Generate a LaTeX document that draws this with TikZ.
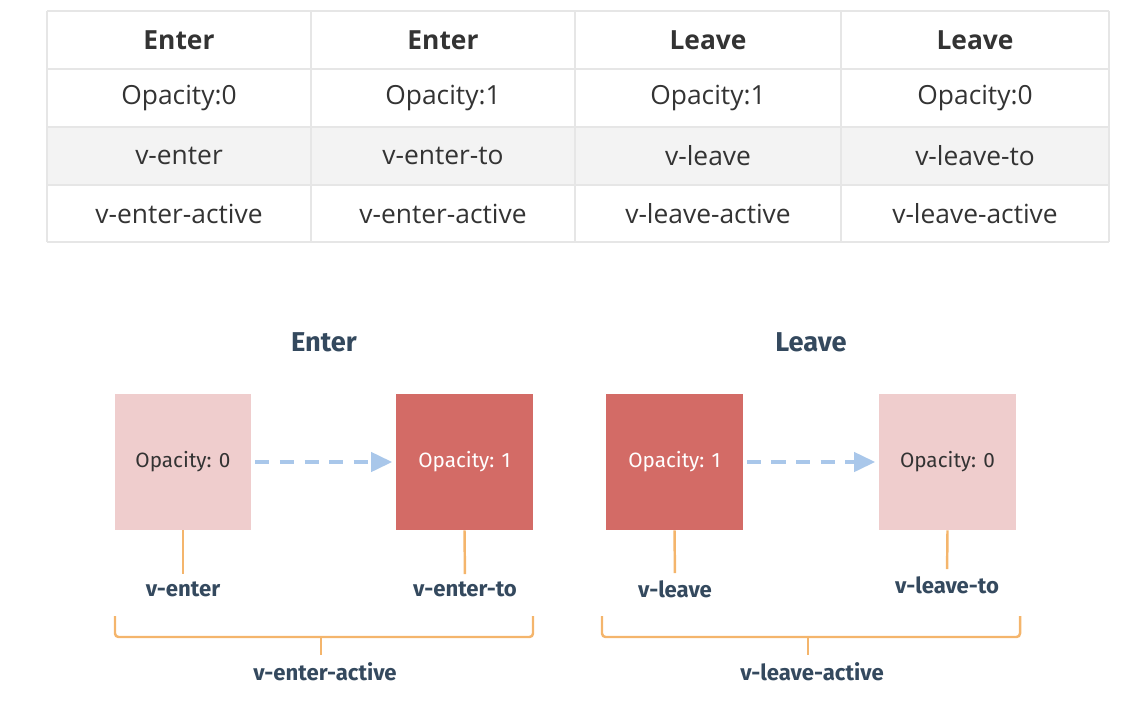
\documentclass[tikz,border=0pt]{standalone}
\usepackage{fontspec}
\setmainfont{Open Sans}
\newfontfamily\labelfont{Fira Sans}
\usetikzlibrary{positioning}
\usetikzlibrary{arrows.meta}

\definecolor{gridline}{HTML}{E6E6E6}
\definecolor{rowgrey}{HTML}{F3F3F3}
\definecolor{celltext}{HTML}{333333}
\definecolor{slate}{HTML}{34495E}
\definecolor{palered}{HTML}{EFCDCD}
\definecolor{deepred}{HTML}{D36B66}
\definecolor{dashblue}{HTML}{A9C7EA}
\definecolor{bracketorange}{HTML}{F4B56C}

\tikzset{
  cell/.style={text=celltext,font=\fontsize{15}{17}\selectfont},
  headcell/.style={text=celltext,font=\fontsize{15}{17}\selectfont\bfseries},
  stagebox/.style={rectangle,minimum width=2.74cm,minimum height=2.72cm,inner sep=0pt,font=\labelfont\fontsize{11.8}{13}\selectfont},
  classlabel/.style={text=slate,inner sep=1pt,font=\labelfont\fontsize{12.6}{14}\selectfont\bfseries},
  phasetitle/.style={text=slate,font=\labelfont\fontsize{15.5}{17}\selectfont\bfseries},
  stem/.style={draw=bracketorange,line width=1.4pt},
  flow/.style={draw=dashblue,line width=2pt,dash pattern=on 8pt off 6pt,-{Triangle[length=12pt,width=11pt]}}
}

\begin{document}
\begin{tikzpicture}[x=0.02cm,y=-0.02cm]
\useasboundingbox (0,0) rectangle (1124,700);
% table
\fill[rowgrey] (47,127) rectangle (1109,185);
\foreach \y in {11,69,127,185,242}
  \draw[gridline,line width=0.8pt] (47,\y) -- (1109,\y);
\foreach \x in {47,311,575,841,1109}
  \draw[gridline,line width=0.8pt] (\x,11) -- (\x,242);
\foreach \x/\n/\a/\b/\c/\d in {179/1/Enter/Opacity:0/v-enter/v-enter-active,
  443/2/Enter/Opacity:1/v-enter-to/v-enter-active,
  708/3/Leave/Opacity:1/v-leave/v-leave-active,
  975/4/Leave/Opacity:0/v-leave-to/v-leave-active}{
  \node[headcell] (head\n) at (\x,40) {\a};
  \node[cell] (opac\n) at (\x,98) {\b};
  \node[cell] (cls\n) at (\x,156) {\c};
  \node[cell] (act\n) at (\x,213.5) {\d};
}

% enter
\node[phasetitle] (entertitle) at (324,342) {Enter};
\node[stagebox,fill=palered,text=celltext] (enterfrom) at (183,462) {Opacity: 0};
\node[stagebox,fill=deepred,text=white] (enterto) at (464.5,462) {Opacity: 1};
\draw[flow,shorten <=2pt,shorten >=2pt] (enterfrom) -- (enterto);
\node[classlabel] (enterfromlbl) at (183,589) {v-enter};
\node[classlabel] (entertolbl) at (465,589) {v-enter-to};
\draw[stem,shorten >=3pt] (enterfrom.south) -- (enterfromlbl.north);
\draw[stem,shorten >=3pt] (enterto.south) -- (entertolbl.north);
\draw[stem,rounded corners=2pt] (115,616) -- (115,637) -- (533,637) -- (533,616);
\coordinate (enterbrace) at (321,637);
\node[classlabel] (enteractive) at (325,672) {v-enter-active};
\draw[stem,shorten >=3pt] (enterbrace) -- (enterbrace |- enteractive.north);

% leave
\node[phasetitle] (leavetitle) at (811,342) {Leave};
\node[stagebox,fill=deepred,text=white] (leavefrom) at (674.5,462) {Opacity: 1};
\node[stagebox,fill=palered,text=celltext] (leaveto) at (947.5,462) {Opacity: 0};
\draw[flow,shorten <=2pt,shorten >=2pt] (leavefrom) -- (leaveto);
\node[classlabel] (leavefromlbl) at (675,589) {v-leave};
\node[classlabel] (leavetolbl) at (947,585) {v-leave-to};
\draw[stem,shorten >=3pt] (leavefrom.south) -- (leavefromlbl.north);
\draw[stem,shorten >=3pt] (leaveto.south) -- (leavetolbl.north);
\draw[stem,rounded corners=2pt] (602,616) -- (602,637) -- (1020,637) -- (1020,616);
\coordinate (leavebrace) at (808,637);
\node[classlabel] (leaveactive) at (812,672) {v-leave-active};
\draw[stem,shorten >=3pt] (leavebrace) -- (leavebrace |- leaveactive.north);
\end{tikzpicture}
\end{document}
